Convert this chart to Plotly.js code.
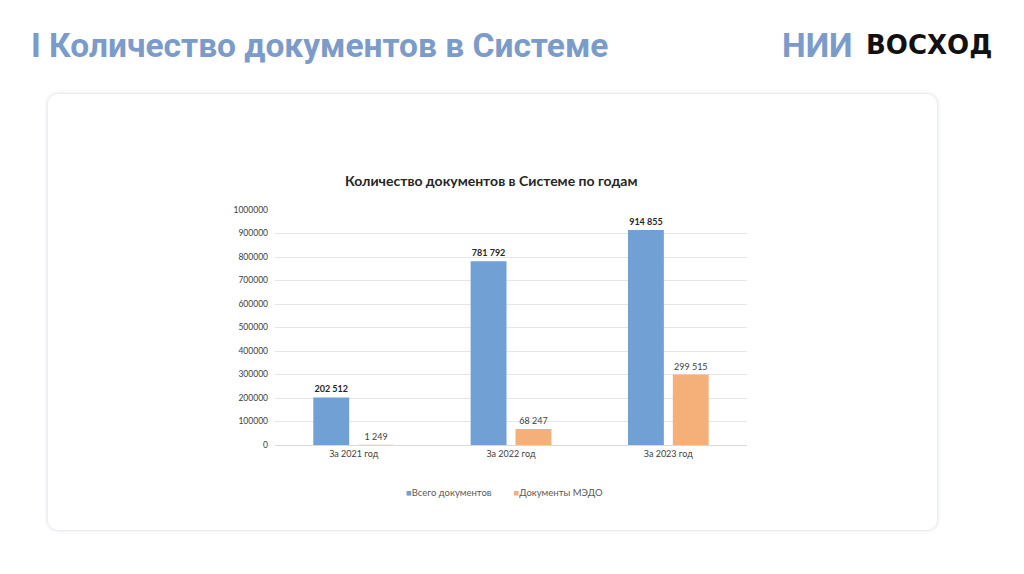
<!DOCTYPE html>
<html>
<head>
<meta charset="utf-8">
<script src="https://cdn.plot.ly/plotly-3.0.1.min.js"></script>
<style>
  html, body { margin:0; padding:0; background:#ffffff; width:1024px; height:574px; overflow:hidden; }
  #card { position:absolute; left:48px; top:94px; width:889px; height:436px; background:#fff;
          border-radius:10px; box-shadow:0 0 4px rgba(150,160,190,0.45); }
  #chart { position:absolute; left:0; top:0; width:1024px; height:574px; }
</style>
</head>
<body>
<div id="card"></div>
<div id="chart"></div>
<script>
const categories = ['За 2021 год', 'За 2022 год', 'За 2023 год'];
const totalDocs = [202512, 781792, 914855];
const medoDocs = [1249, 68247, 299515];
const seriesNames = ['Всего документов', 'Документы МЭДО'];
const seriesColors = ['#70a0d4', '#f5b07a'];
const tickValues = [0, 100000, 200000, 300000, 400000, 500000, 600000, 700000, 800000, 900000, 1000000];

const labelFont = 'Lato, "Noto Sans", sans-serif';

const traces = [
  {
    type: 'bar', name: seriesNames[0], x: categories, y: totalDocs,
    marker: { color: seriesColors[0] },
    texttemplate: '%{y:,}', textposition: 'outside', cliponaxis: false,
    textfont: { family: labelFont, size: 9, color: '#262626', weight: 'bold' }
  },
  {
    type: 'bar', name: seriesNames[1], x: categories, y: medoDocs,
    marker: { color: seriesColors[1] },
    texttemplate: '%{y:,}', textposition: 'outside', cliponaxis: false,
    textfont: { family: labelFont, size: 9, color: '#404040' }
  }
];

const legendText = seriesNames.map((n, i) =>
  '<span style="color:' + seriesColors[i] + '">■</span>' + n).join('&nbsp;&nbsp;&nbsp;&nbsp;&nbsp;&nbsp;&nbsp;&nbsp;&nbsp;');

const layout = {
  width: 1024, height: 574,
  margin: { l: 0, r: 0, t: 0, b: 0 },
  paper_bgcolor: 'rgba(0,0,0,0)', plot_bgcolor: 'rgba(0,0,0,0)',
  separators: ', ',
  barmode: 'group', bargap: 0.43, bargroupgap: 0.2,
  showlegend: false,
  xaxis: {
    domain: [275/1024, 747/1024], type: 'category', range: [-0.5, 2.5],
    showline: true, linecolor: '#d9d9d9', linewidth: 1, ticks: '', showgrid: false,
    tickfont: { family: labelFont, size: 9, color: '#404040' }
  },
  yaxis: {
    domain: [(574-445)/574, (574-210)/574], range: [0, 1000000],
    tickvals: tickValues, tickformat: 'd', showgrid: true, gridcolor: '#e6e6e6', gridwidth: 1,
    zeroline: false, showline: false, ticks: '', ticklabelstandoff: 6,
    tickfont: { family: labelFont, size: 8.5, color: '#404040' }
  },
  annotations: [
    { text: 'Количество документов в Системе по годам', xref: 'paper', yref: 'paper',
      x: 491/1024, y: (574-181)/574, xanchor: 'center', yanchor: 'middle', showarrow: false,
      font: { family: labelFont, size: 14, color: '#262626', weight: 'bold' } },
    { text: legendText, xref: 'paper', yref: 'paper',
      x: 504/1024, y: (574-492)/574, xanchor: 'center', yanchor: 'middle', showarrow: false,
      font: { family: labelFont, size: 9.5, color: '#595959' } },
    { text: 'I Количество документов в Системе', xref: 'paper', yref: 'paper',
      x: 29/1024, y: (574-45)/574, xanchor: 'left', yanchor: 'middle', showarrow: false,
      font: { family: 'Roboto, sans-serif', size: 33.5, color: '#7b9bcb', weight: 'bold' } },
    { text: 'НИИ', xref: 'paper', yref: 'paper',
      x: 780/1024, y: (574-45)/574, xanchor: 'left', yanchor: 'middle', showarrow: false,
      font: { family: 'Roboto, sans-serif', size: 33.5, color: '#7b9bcb', weight: 'bold' } },
    { text: 'ВОСХОД', xref: 'paper', yref: 'paper',
      x: 864/1024, y: (574-45)/574, xanchor: 'left', yanchor: 'middle', showarrow: false,
      font: { family: '"DejaVu Sans", sans-serif', size: 26, color: '#111111', weight: 'bold' } }
  ]
};

Plotly.newPlot('chart', traces, layout, { displayModeBar: false, staticPlot: true });
</script>
</body>
</html>
